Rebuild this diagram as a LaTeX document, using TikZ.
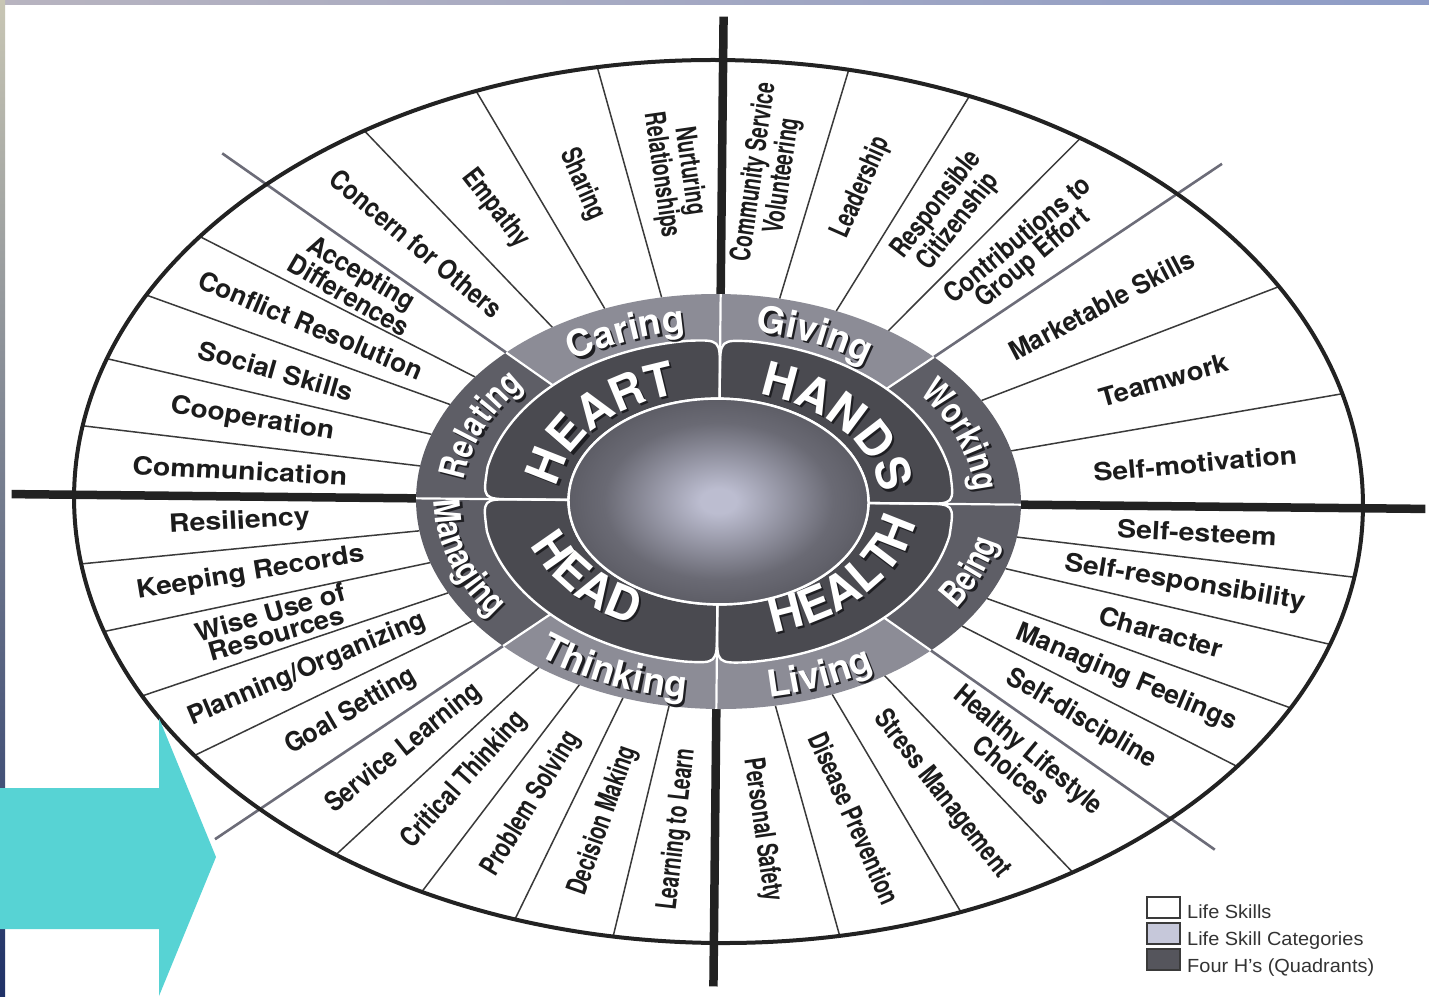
\documentclass[tikz,border=0pt]{standalone}
\usepackage{fontspec}
\setmainfont{TeX Gyre Heros}
\newfontfamily\sidefont{TeX Gyre Heros}[FakeStretch=0.8]
\newfontfamily\legendfont{Liberation Sans}
\usetikzlibrary{decorations.text}

% palette
\definecolor{ink}{HTML}{222222}
\definecolor{lineink}{HTML}{3A3A3A}
\definecolor{catgray}{HTML}{6C6C78}
\definecolor{ringlight}{HTML}{8C8C96}
\definecolor{ringdark}{HTML}{5E5E66}
\definecolor{lobegray}{HTML}{4A4A50}
\definecolor{sphhi}{HTML}{BCBDD0}
\definecolor{sphmid}{HTML}{6A6A74}
\definecolor{sphlo}{HTML}{45454B}
\definecolor{shadowink}{HTML}{1E1E22}
\definecolor{textink}{HTML}{1C1C1C}
\definecolor{arrowcyan}{HTML}{57D3D4}
\definecolor{legendcat}{HTML}{C6C8DA}
\definecolor{legendquad}{HTML}{55555C}
\definecolor{legendedge}{HTML}{3A3A3A}
\definecolor{legendink}{HTML}{333333}
\definecolor{stripA}{HTML}{B8B4C0}
\definecolor{stripB}{HTML}{8E9CC6}
\definecolor{sideA}{HTML}{C8C6B4}
\definecolor{sideB}{HTML}{6FA6C6}
\definecolor{sideC}{HTML}{1F3167}

\pgfdeclareradialshading{sphereshade}{\pgfpoint{0bp}{0bp}}{%
  color(0bp)=(sphhi); color(3bp)=(sphhi); color(19bp)=(sphmid);
  color(36bp)=(sphlo); color(50bp)=(sphlo)}

\newcommand\catfont{\bfseries\fontsize{37}{37}\selectfont}
\newcommand\catsidefont{\sidefont\bfseries\fontsize{36}{36}\selectfont}
\newcommand\quadfont{\bfseries\fontsize{47}{47}\selectfont}

\tikzset{
  skillline/.style={draw=lineink, line width=1.5pt},
  catline/.style={draw=catgray, line width=2.6pt},
  quadline/.style={draw=ink, line width=8.5pt},
  outerrim/.style={draw=ink, line width=4pt},
  lobeshape/.style={fill=lobegray, draw=white, line width=2.4pt, line join=round},
  divider/.style={draw=white, line width=2.2pt},
  skilltext/.style={font=\bfseries\fontsize{28.5}{24}\selectfont, text=textink,
    align=center, inner sep=0pt},
  legendbox/.style={draw=legendedge, line width=1.2pt},
  legendtext/.style={font=\legendfont\fontsize{19}{19}\selectfont, text=legendink,
    anchor=base west, inner sep=0pt, xscale=1.05}
}

% life skill label: [radial position] {name} {angle} {text}
\newcommand\skilllabel[4][0.52]{%
  \pgfmathsetmacro\skR{302.5+#1*342}%
  \pgfmathsetmacro\skX{\skR*cos(#3)}%
  \pgfmathsetmacro\skY{0.686*\skR*sin(#3)}%
  \pgfmathsetmacro\skRot{atan(0.686*tan(#3))}%
  \pgfmathsetmacro\skLs{sqrt(cos(#3)^2+0.449*sin(#3)^2)}%
  \pgfmathsetmacro\skHs{sqrt(sin(#3)^2+0.774*cos(#3)^2)}%
  \node[skilltext, rotate=\skRot, xscale=\skLs, yscale=\skHs] (#2) at (\skX,\skY) {#4};%
}

% white lettering with a drop shadow along an elliptic arc:
% {font} {x radius} {start angle} {end angle} {text}
\newcommand\ringlabel[5]{%
  \pgfmathsetmacro\rlY{0.686*#2}%
  \pgfmathsetmacro\rlPx{#2*cos(#3)}%
  \pgfmathsetmacro\rlPy{\rlY*sin(#3)}%
  \path[decorate, xshift=2.2pt, yshift=-2.2pt,
    decoration={text along path, text align=center, text={|#1\color{shadowink}|#5}}]
    (\rlPx,\rlPy) arc[start angle=#3, end angle=#4, x radius=#2, y radius=\rlY];
  \path[decorate,
    decoration={text along path, text align=center, text={|#1\color{white}|#5}}]
    (\rlPx,\rlPy) arc[start angle=#3, end angle=#4, x radius=#2, y radius=\rlY];
}

\begin{document}
\begin{tikzpicture}[x=1pt,y=1pt]
\useasboundingbox (0,0) rectangle (1429,-996);
\fill[white] (0,0) rectangle (1429,-996);
% slide edges
\shade[left color=stripA, right color=stripB] (0,0) rectangle (1429,-4);
\shade[top color=sideA, middle color=sideB, bottom color=sideC] (0,0) rectangle (5,-996);

\begin{scope}[shift={(718.5,-501.5)}, rotate=-0.6]
  % life skill dividers
  \foreach \a in {15,30,56.25,67.5,78.75,101.25,112.5,123.75,144,153,162,171,
                  189,198,207,216,234,243,252,261,281.25,292.5,303.75,324,333,342,351}
    \draw[skillline] (\a:302.5 and 207.5) -- (\a:644.5 and 441.5);
  % category dividers
  \foreach \a in {45,135,225,315}
    \draw[catline] (\a:302.5 and 207.5) -- (\a:707 and 485);
  % rim
  \draw[outerrim] (0,0) ellipse [x radius=644.5, y radius=441.5];
  % quadrant dividers
  \foreach \a in {0,90,180,270}
    \draw[quadline] (\a:302.5 and 207.5) -- (\a:707 and 485);

  % category ring
  \foreach \a/\b/\c in {0/45/ringdark, 45/90/ringlight, 90/135/ringlight, 135/180/ringdark,
                        180/225/ringdark, 225/270/ringlight, 270/315/ringlight, 315/360/ringdark}
    \fill[\c] (0,0) -- (\a:302.5 and 207.5)
      arc[start angle=\a, end angle=\b, x radius=302.5, y radius=207.5] -- cycle;

  % quadrant lobes
  \foreach \sx/\sy in {1/1,-1/1,-1/-1,1/-1}{
    \begin{scope}[xscale=\sx, yscale=\sy]
      \path[lobeshape] (0,102.9) -- (0,129.9) .. controls (0,161.9) .. (32,160.4)
        arc[start angle=82.2, end angle=11.4, x radius=236, y radius=161.9]
        .. controls (236,0) .. (204,0) -- (150,0)
        arc[start angle=0, end angle=90, x radius=150, y radius=102.9] -- cycle;
    \end{scope}
  }

  % centre sphere
  \shade[shading=sphereshade] (0,0) ellipse [x radius=150, y radius=102.9];
  \draw[white, line width=2.4pt] (0,0) ellipse [x radius=150, y radius=102.9];

  % white separators in the ring
  \foreach \a in {0,90,180,270}
    \draw[divider] (\a:150 and 102.9) -- (\a:302.5 and 207.5);
  \foreach \a in {45,135,225,315}
    \draw[divider] (\a:236 and 161.9) -- (\a:302.5 and 207.5);

  % categories
  \ringlabel{\catfont}{250}{135}{90}{Caring}
  \ringlabel{\catfont}{250}{90}{45}{Giving}
  \ringlabel{\catsidefont}{256}{180}{135}{Relating}
  \ringlabel{\catsidefont}{256}{42}{0}{Working}
  \ringlabel{\catsidefont}{284}{180}{218}{Managing}
  \ringlabel{\catfont}{289}{225}{270}{Thinking}
  \ringlabel{\catfont}{289}{270}{315}{Living}
  \ringlabel{\catsidefont}{284}{318}{360}{Being}
  % four H's
  \ringlabel{\quadfont}{162}{180}{101}{HEART}
  \ringlabel{\quadfont}{162}{79}{0}{HANDS}
  \ringlabel{\quadfont}{199}{180}{259}{HEAD}
  \ringlabel{\quadfont}{199}{281}{360}{HEALTH}

  % life skills
  \skilllabel{selfmot}{7.5}{Self-motivation}
  \skilllabel{team}{22.5}{Teamwork}
  \skilllabel{market}{37.5}{Marketable Skills}
  \skilllabel{contrib}{50.6}{Contributions to\\Group Effort}
  \skilllabel{citizen}{61.9}{Responsible\\Citizenship}
  \skilllabel{leader}{73.1}{Leadership}
  \skilllabel{commserv}{84.4}{Community Service\\Volunteering}
  \skilllabel{nurture}{95.6}{Nurturing\\Relationships}
  \skilllabel{sharing}{106.9}{Sharing}
  \skilllabel{empathy}{118.1}{Empathy}
  \skilllabel{concern}{129.4}{Concern for Others}
  \skilllabel{accept}{139.5}{Accepting\\Differences}
  \skilllabel{conflict}{148.5}{Conflict Resolution}
  \skilllabel{social}{157.5}{Social Skills}
  \skilllabel{coop}{166.5}{Cooperation}
  \skilllabel{comm}{175.5}{Communication}
  \skilllabel{resil}{184.5}{Resiliency}
  \skilllabel{records}{193.5}{Keeping Records}
  \skilllabel{wise}{202.5}{Wise Use of\\Resources}
  \skilllabel{planning}{211.5}{Planning/Organizing}
  \skilllabel{goal}{220.5}{Goal Setting}
  \skilllabel{servlearn}{229.5}{Service Learning}
  \skilllabel{critical}{238.5}{Critical Thinking}
  \skilllabel{problem}{247.5}{Problem Solving}
  \skilllabel{decision}{256.5}{Decision Making}
  \skilllabel{learning}{265.5}{Learning to Learn}
  \skilllabel{safety}{275.6}{Personal Safety}
  \skilllabel{disease}{286.9}{Disease Prevention}
  \skilllabel{stress}{298.1}{Stress Management}
  \skilllabel{lifestyle}{309.4}{Healthy Lifestyle\\Choices}
  \skilllabel{discipline}{319.5}{Self-discipline}
  \skilllabel{feelings}{328.5}{Managing Feelings}
  \skilllabel{character}{337.5}{Character}
  \skilllabel{selfresp}{346.5}{Self-responsibility}
  \skilllabel{esteem}{355.5}{Self-esteem}
\end{scope}

% legend
\draw[legendbox, fill=white] (1147,-897) rectangle (1180,-918);
\draw[legendbox, fill=legendcat] (1147,-923) rectangle (1180,-944);
\draw[legendbox, fill=legendquad] (1147,-949) rectangle (1180,-970);
\node[legendtext] (lgskill) at (1187,-918) {Life Skills};
\node[legendtext] (lgcat) at (1187,-945) {Life Skill Categories};
\node[legendtext] (lgquad) at (1187,-972) {Four H’s (Quadrants)};

% pointer arrow
\fill[arrowcyan] (0,-788) -- (159,-788) -- (159,-718) -- (216,-857)
  -- (159,-996) -- (159,-929) -- (0,-929) -- cycle;
\end{tikzpicture}
\end{document}
